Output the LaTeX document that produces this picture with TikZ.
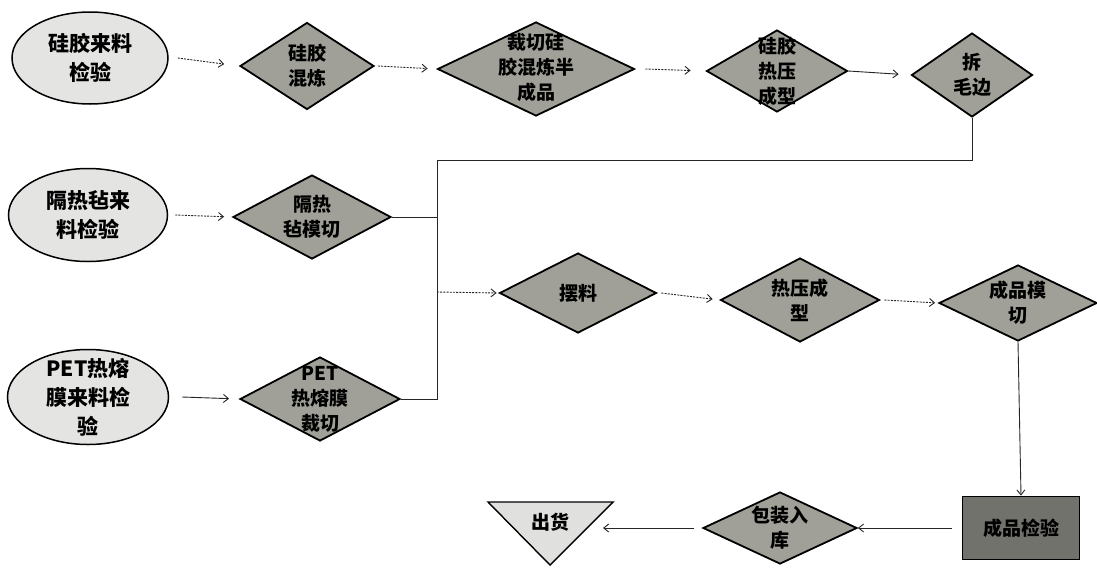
\documentclass[tikz,border=0pt]{standalone}
\usepackage{fontspec}
\setmainfont{Noto Sans CJK SC}
\usetikzlibrary{shapes.geometric,arrows.meta}
\definecolor{dfill}{RGB}{160,160,152}
\definecolor{efill}{RGB}{228,228,226}
\definecolor{bfill}{RGB}{114,114,108}
\definecolor{tfill}{RGB}{224,224,222}
\begin{document}
\begin{tikzpicture}[x=1pt,y=1pt,
  ell/.style={ellipse,draw=black,line width=1.5pt,fill=efill,inner sep=0pt},
  dia/.style={diamond,draw=black,line width=1.8pt,fill=dfill,inner sep=0pt},
  elbl/.style={font=\fontsize{21}{29}\selectfont\bfseries,align=center,text=black},
  dlbl/.style={font=\fontsize{19}{25}\selectfont\bfseries,align=center,text=black},
  conn/.style={line width=0.9pt,draw=black!85},
  arr/.style={conn,-{Straight Barb[length=5pt,width=8pt]}},
  darr/.style={arr,dash pattern=on 2pt off 1.2pt}]
\useasboundingbox (0,0) rectangle (1097,-568);
\fill[white] (0,0) rectangle (1097,-568);
% row 1
\node[ell,minimum width=156pt,minimum height=92pt,label={[elbl]center:{硅胶来料\\检验}}] (e1) at (90,-58) {};
\node[dia,minimum width=134pt,minimum height=87pt,label={[dlbl]center:{硅胶\\混炼}}] (d1) at (307,-66) {};
\node[dia,minimum width=197pt,minimum height=94pt,label={[dlbl,yshift=2pt]center:{裁切硅\\胶混炼半\\成品}}] (d2) at (536,-69) {};
\node[dia,minimum width=141pt,minimum height=82pt,label={[dlbl]center:{硅胶\\热压\\成型}}] (d3) at (777,-71) {};
\node[dia,minimum width=121pt,minimum height=84pt,label={[dlbl]center:{拆\\毛边}}] (d4) at (972,-75) {};
% row 2
\node[ell,minimum width=159pt,minimum height=93pt,label={[elbl]center:{隔热毡来\\料检验}}] (e2) at (88,-215) {};
\node[dia,minimum width=158pt,minimum height=84pt,label={[dlbl]center:{隔热\\毡模切}}] (d5) at (312,-217) {};
% row 3
\node[ell,minimum width=161pt,minimum height=95pt,label={[elbl]center:{PET热熔\\膜来料检\\验}}] (e3) at (88,-397) {};
\node[dia,minimum width=160pt,minimum height=84pt,label={[dlbl]center:{PET\\热熔膜\\裁切}}] (d6) at (320,-399) {};
% middle row
\node[dia,minimum width=157pt,minimum height=80pt,label={[dlbl]center:{摆料}}] (d7) at (578,-293) {};
\node[dia,minimum width=159pt,minimum height=84pt,label={[dlbl]center:{热压成\\型}}] (d8) at (800,-300) {};
\node[dia,minimum width=158pt,minimum height=76pt,label={[dlbl]center:{成品模\\切}}] (d9) at (1018,-303) {};
% bottom row
\node[draw=black,line width=1.8pt,fill=bfill,minimum width=117pt,minimum height=63pt,inner sep=0pt,dlbl] (box) at (1021,-528) {成品检验};
\node[dia,minimum width=154pt,minimum height=72pt,label={[dlbl]center:{包装入\\库}}] (d10) at (780,-528) {};
\draw[line width=1.4pt,fill=tfill] (488,-502) -- (613,-502) -- (550,-565) -- cycle;
\node[dlbl] (ship) at (550,-522) {出货};
\coordinate (shipR) at (603,-528);
% junction coordinates
\coordinate (j1) at (437,-160);
\coordinate (j2) at (437,-399);
\coordinate (j3) at (437,-292);
% connectors
\draw[darr,shorten >=15pt] (e1.east) ++(9,0) -- (d1.west);
\draw[darr,shorten >=9pt] (d1.east) ++(3,0) -- (d2.west);
\draw[darr,shorten >=15pt] (d2.east) ++(10,0) -- (d3.west);
\draw[arr,shorten >=12pt] (d3.east) -- (d4.west);
\draw[conn] (d4.south) |- (j1) -- (j2) -- (d6.east);
\draw[conn] (d5.east) -- (d5.east -| j1);
\draw[darr,shorten >=8pt] (e2.east) ++(7,0) -- (d5.west);
\draw[arr,shorten >=10pt] (e3.east) ++(13,0) -- (d6.west);
\draw[darr,shorten >=2pt] (j3) -- (d7.west);
\draw[darr,shorten >=7pt] (d7.east) ++(4,0) -- (d8.west);
\draw[darr,shorten >=3pt] (d8.east) ++(4,0) -- (d9.west);
\draw[arr] (d9.south) -- (box.north);
\draw[arr] (box.west) ++(-10,0) -- (d10.east);
\draw[arr] (d10.west) ++(-8,0) -- (shipR);
\end{tikzpicture}
\end{document}
